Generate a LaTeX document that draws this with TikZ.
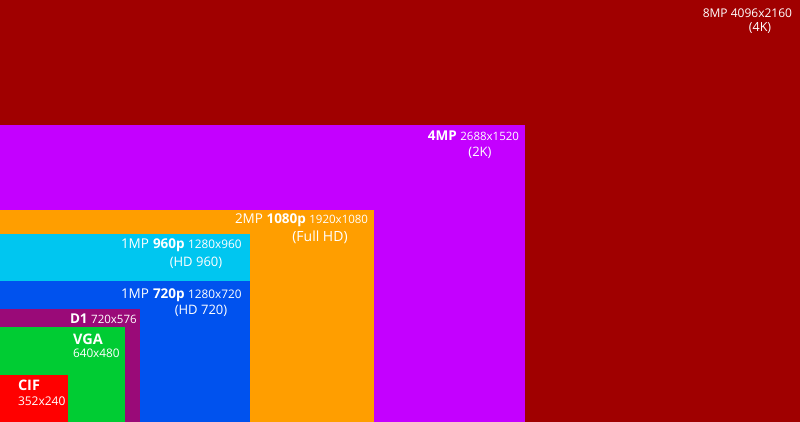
\documentclass[tikz,border=0pt]{standalone}
\usepackage{fontspec}
\setmainfont{Open Sans}
\definecolor{c8mp}{HTML}{A00000}
\definecolor{c4mp}{HTML}{C400FF}
\definecolor{c2mp}{HTML}{FF9E00}
\definecolor{c960}{HTML}{00C6F0}
\definecolor{c720}{HTML}{0052EE}
\definecolor{cd1}{HTML}{9A0A78}
\definecolor{cvga}{HTML}{00CC33}
\definecolor{ccif}{HTML}{FF0000}
\newcommand{\fsz}[1]{\fontsize{#1}{#1}\selectfont}
\tikzset{lbl/.style={text=white, inner sep=0pt, outer sep=0pt}}
\begin{document}
\begin{tikzpicture}[x=1pt,y=-1pt]
\useasboundingbox (0,0) rectangle (800,422);
\fill[c8mp] (0,0) rectangle (800,422);
\fill[c4mp] (0,125) rectangle (525,422);
\fill[c2mp] (0,210) rectangle (374,422);
\fill[c960] (0,234) rectangle (250,422);
\fill[c720] (0,281) rectangle (250,422);
\fill[cd1] (0,309) rectangle (140,422);
\fill[cvga] (0,327) rectangle (125,422);
\fill[ccif] (0,375) rectangle (68,422);

\node[lbl, anchor=base east] (l8a) at (792,18) {\fsz{12}8MP 4096x2160};
\node[lbl, anchor=base] (l8b) at (760,32) {\fsz{12.5}(4K)};

\node[lbl, anchor=base east] (l4a) at (519,141) {\fsz{13.5}\bfseries 4MP \fsz{11.5}\mdseries 2688x1520};
\node[lbl, anchor=base] (l4b) at (480,157) {\fsz{13}(2K)};

\node[lbl, anchor=base west] (l2a) at (235,223) {\fsz{13.5}2MP \bfseries 1080p \fsz{11.5}\mdseries 1920x1080};
\node[lbl, anchor=base] (l2b) at (320,241) {\fsz{14}(Full HD)};

\node[lbl, anchor=base west] (l96a) at (121,248) {\fsz{13.5}1MP\hspace{4pt}\bfseries 960p \fsz{11.8}\mdseries 1280x960};
\node[lbl, anchor=base] (l96b) at (196,266) {\fsz{13}(HD 960)};

\node[lbl, anchor=base west] (l72a) at (121,298) {\fsz{13.5}1MP\hspace{4pt}\bfseries 720p \fsz{11.8}\mdseries 1280x720};
\node[lbl, anchor=base] (l72b) at (201,314) {\fsz{13}(HD 720)};

\node[lbl, anchor=base west] (ld1) at (70,323) {\fsz{13.5}\bfseries D1 \fsz{11.5}\mdseries 720x576};

\node[lbl, anchor=base west] (lvga1) at (73,344) {\fsz{14.5}\bfseries VGA};
\node[lbl, anchor=base west] (lvga2) at (73,357) {\fsz{11.8}640x480};

\node[lbl, anchor=base west] (lcif1) at (18,390) {\fsz{14.5}\bfseries CIF};
\node[lbl, anchor=base west] (lcif2) at (18,405) {\fsz{12}352x240};
\end{tikzpicture}
\end{document}
